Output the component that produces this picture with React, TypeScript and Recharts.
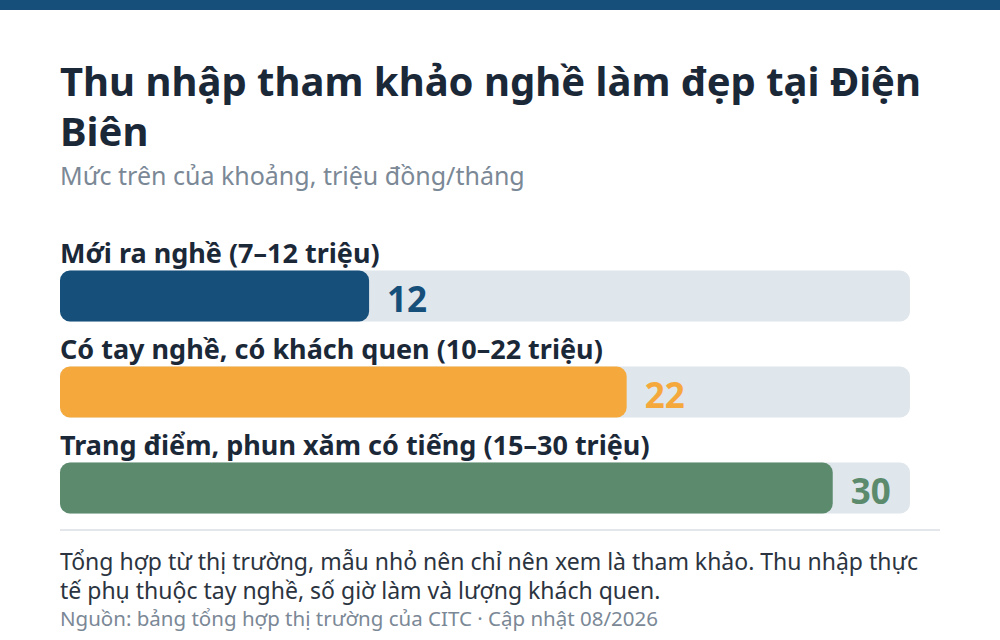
import React from 'react';
import { BarChart, Bar, XAxis, YAxis, Cell, LabelList } from 'recharts';

const categories = ['Mới ra nghề', 'Có tay nghề, có khách quen', 'Trang điểm, phun xăm có tiếng'];
const ranges = ['7–12 triệu', '10–22 triệu', '15–30 triệu'];
const upperValues = [12, 22, 30];
const barColors = ['#154f7a', '#f5a93d', '#5b8b6c'];
const axisMax = 33;

const data = categories.map((name, i) => ({
  name,
  label: `${name} (${ranges[i]})`,
  value: upperValues[i],
  color: barColors[i],
}));

const FONT = '"Noto Sans", "Open Sans", sans-serif';

const CategoryLabel = (props: any) => {
  const { x, y, value } = props;
  return (
    <text x={x} y={y - 8} fontSize={27} fontWeight={700} fill="#1b2838" fontFamily={FONT}>
      {value}
    </text>
  );
};

const ValueLabel = (props: any) => {
  const { x, y, width, height, value, index } = props;
  return (
    <text
      x={x + width + 18}
      y={y + height / 2 + 2}
      dominantBaseline="central"
      fontSize={35}
      fontWeight={700}
      fill={barColors[index]}
      fontFamily={FONT}
    >
      {value}
    </text>
  );
};

const App: React.FC = () => {
  return (
    <div style={{ position: 'absolute', left: 0, top: 0, width: 1000, height: 640, background: '#fff', fontFamily: FONT, overflow: 'hidden' }}>
      <div style={{ height: 10, background: '#154f7a' }} />
      <div style={{ position: 'absolute', left: 60, top: 56, width: 880 }}>
        <div style={{ fontSize: 40, fontWeight: 700, color: '#1b2838', lineHeight: '50px' }}>
          Thu nhập tham khảo nghề làm đẹp tại Điện Biên
        </div>
        <div style={{ fontSize: 25, color: '#7b8896', marginTop: 2, lineHeight: '34px' }}>
          Mức trên của khoảng, triệu đồng/tháng
        </div>
      </div>

      <div style={{ position: 'absolute', left: 0, top: 200 }}>
        <BarChart
          width={1000}
          height={340}
          data={data}
          layout="vertical"
          margin={{ top: 47.5, right: 90, bottom: 4.5, left: 60 }}
        >
          <XAxis type="number" domain={[0, axisMax]} hide />
          <YAxis type="category" dataKey="name" hide />
          <Bar
            dataKey="value"
            barSize={51}
            radius={10}
            background={{ fill: '#dfe6ec', radius: 10 } as any}
            isAnimationActive={false}
          >
            {data.map((d, i) => (
              <Cell key={`cell-${i}`} fill={d.color} />
            ))}
            <LabelList dataKey="label" content={<CategoryLabel />} />
            <LabelList dataKey="value" content={<ValueLabel />} />
          </Bar>
        </BarChart>
      </div>

      <div style={{ position: 'absolute', left: 60, top: 529, width: 880, height: 2, background: '#e3e7ec' }} />
      <div style={{ position: 'absolute', left: 60, top: 547, width: 870 }}>
        <div style={{ fontSize: 23, color: '#2b3440', lineHeight: '29px' }}>
          Tổng hợp từ thị trường, mẫu nhỏ nên chỉ nên xem là tham khảo. Thu nhập thực tế phụ thuộc tay nghề, số giờ làm và lượng khách quen.
        </div>
        <div style={{ fontSize: 20.5, color: '#7b8896', lineHeight: '22px', marginTop: 2 }}>
          Nguồn: bảng tổng hợp thị trường của CITC · Cập nhật 08/2026
        </div>
      </div>
    </div>
  );
};

export default App;
